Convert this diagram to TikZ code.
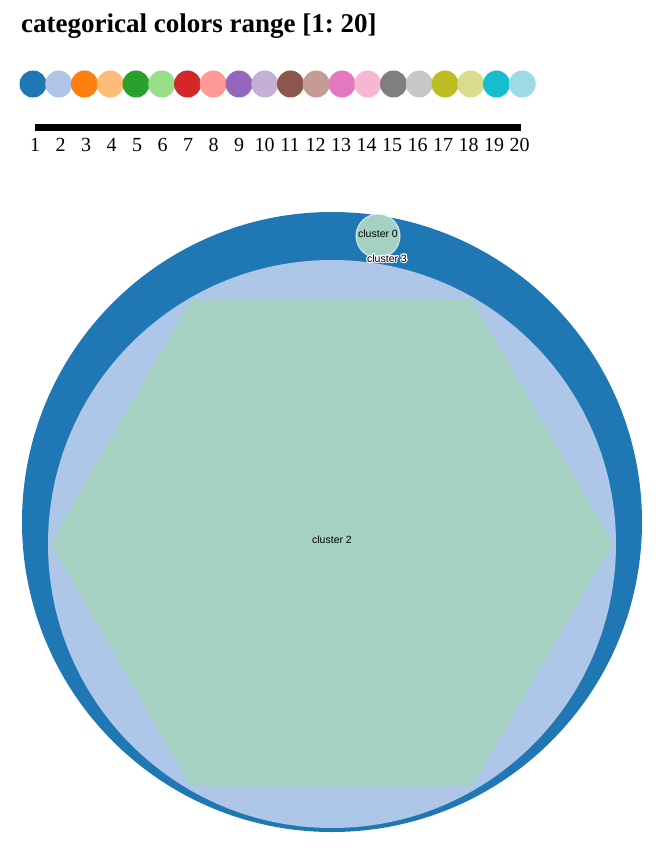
\documentclass[tikz,border=0pt]{standalone}
\usepackage{fontspec}
\setmainfont{Liberation Serif}
\setsansfont{Liberation Sans}
\usepackage{contour}
\contourlength{1.1pt}
\usepackage{tikz}
\usetikzlibrary{positioning,shapes.geometric}
\definecolor{c1}{HTML}{1F77B4}
\definecolor{c2}{HTML}{AEC7E8}
\definecolor{c3}{HTML}{FF7F0E}
\definecolor{c4}{HTML}{FFBB78}
\definecolor{c5}{HTML}{2CA02C}
\definecolor{c6}{HTML}{98DF8A}
\definecolor{c7}{HTML}{D62728}
\definecolor{c8}{HTML}{FF9896}
\definecolor{c9}{HTML}{9467BD}
\definecolor{c10}{HTML}{C5B0D5}
\definecolor{c11}{HTML}{8C564B}
\definecolor{c12}{HTML}{C49C94}
\definecolor{c13}{HTML}{E377C2}
\definecolor{c14}{HTML}{F7B6D2}
\definecolor{c15}{HTML}{7F7F7F}
\definecolor{c16}{HTML}{C7C7C7}
\definecolor{c17}{HTML}{BCBD22}
\definecolor{c18}{HTML}{DBDB8D}
\definecolor{c19}{HTML}{17BECF}
\definecolor{c20}{HTML}{9EDAE5}
\definecolor{hexfill}{HTML}{A5D1C2}
\tikzset{
  swatch/.style={circle, inner sep=0pt, minimum size=27pt},
  ticklab/.style={font=\fontsize{20}{20}\selectfont, inner sep=0pt, anchor=base},
  clus/.style={circle, inner sep=0pt, outer sep=0pt},
  clab/.style={font=\sffamily\fontsize{10.5}{10.5}\selectfont, inner sep=1pt},
  hexa/.style={regular polygon, regular polygon sides=6, inner sep=0pt,
    outer sep=0pt, minimum size=562pt, fill=hexfill},
}
\begin{document}
\begin{tikzpicture}[x=1pt,y=-1pt]
  \useasboundingbox (0,0) rectangle (669,864);
  \node[anchor=base west, inner sep=0pt, font=\bfseries\fontsize{27}{27}\selectfont] (title) at (21,33) {\frenchspacing categorical colors range [1: 20]};
  \foreach \i in {1,...,20} {
    \node[swatch, fill=c\i] (sw\i) at ({33+25.75*(\i-1)},84) {};
    \node[ticklab] (lab\i) at ({35+25.5*(\i-1)},151) {\i};
  }
  \coordinate (barL) at (35,127.5);
  \coordinate (barR) at (520.5,127.5);
  \draw[line width=7.5pt] (barL) -- (barR);
  \node[clus, fill=c1, minimum size=620pt] (outer) at (332,522) {};
  \node[clus, fill=c2, minimum size=568pt] (inner) at (332,544) {};
  \node[hexa] (hex) at (331.5,543) {};
  \node[clab] (c2lab) at (332,540) {cluster 2};
  \node[clus, fill=hexfill, draw=white, draw opacity=0.6, line width=1.2pt, minimum size=44pt] (c0) at (378,236) {};
  \node[clab] (c0lab) at (378,234) {cluster 0};
  \node[clab] (c3lab) at (387,259) {\contour{white}{cluster 3}};
\end{tikzpicture}
\end{document}
